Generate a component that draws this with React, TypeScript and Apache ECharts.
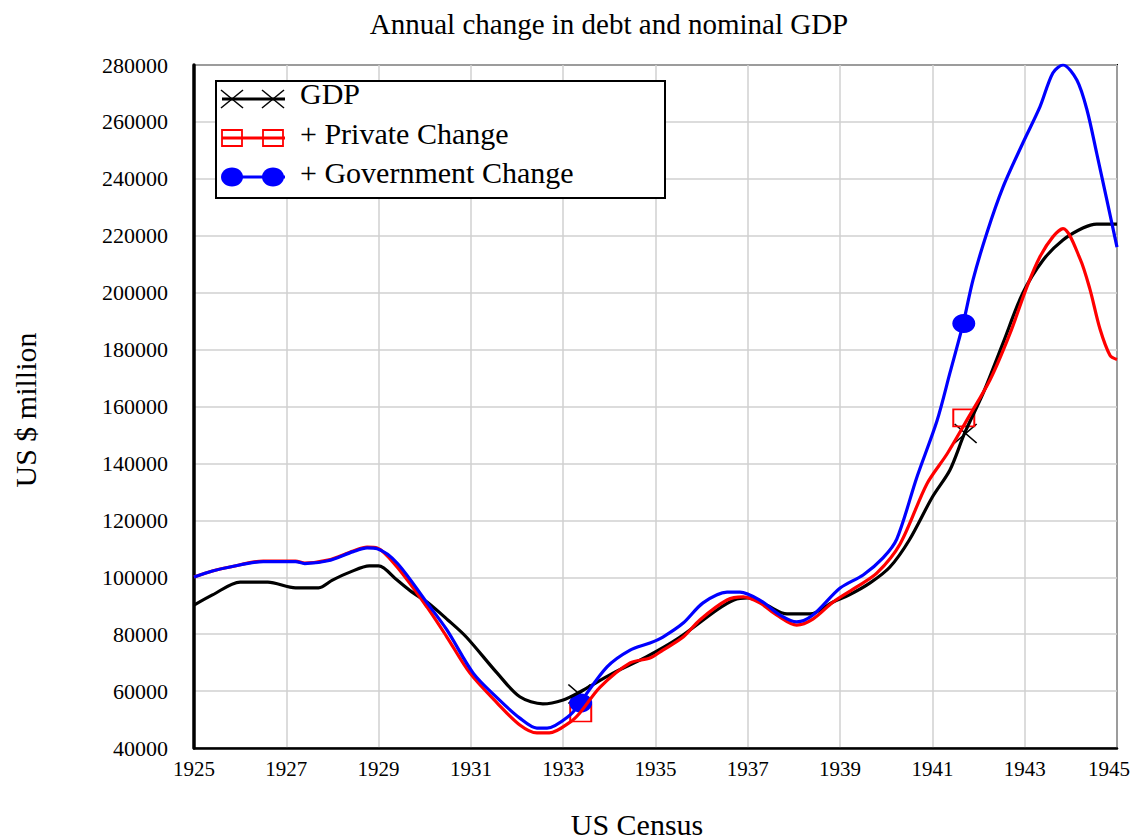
import React, { useEffect, useRef } from "react";
import * as echarts from "echarts";

const titleText = "Annual change in debt and nominal GDP";
const xName = "US Census";
const yName = "US $ million";
const seriesNames = ["GDP", "+ Private Change", "+ Government Change"];

const gdp: [number, number][] = [
  [1925.0, 90200], [1925.4, 93800], [1926.0, 98300], [1926.6, 98300], [1927.2, 96300],
  [1927.7, 96300], [1928.0, 99000], [1928.38, 101800], [1928.8, 104000], [1929.0, 104000],
  [1929.4, 99000], [1929.75, 94500], [1930.05, 91300], [1930.5, 85000], [1930.9, 79000],
  [1931.57, 66300], [1932.06, 58000], [1932.56, 55500], [1933.0, 56900], [1933.36, 59700],
  [1934.08, 66300], [1934.8, 72000], [1935.5, 78600], [1936.33, 88500], [1936.7, 92000],
  [1937.0, 92700], [1937.4, 90250], [1937.85, 87100], [1938.35, 87100], [1938.85, 91300],
  [1939.2, 93800], [1939.65, 98000], [1940.08, 103600], [1940.5, 113100], [1941.0, 128200],
  [1941.38, 137700], [1941.7, 150700], [1942.1, 164700], [1942.53, 182300], [1942.96, 199900],
  [1943.4, 211500], [1943.83, 218500], [1944.26, 222700], [1944.56, 224100], [1945.0, 224100],
];

const privateChange: [number, number][] = [
  [1925.0, 100100], [1925.4, 102200], [1925.78, 103600], [1926.5, 105700], [1927.2, 105700],
  [1927.4, 105000], [1927.9, 106000], [1928.45, 109200], [1928.75, 110600], [1928.97, 110300],
  [1929.4, 103600], [1930.05, 89500], [1930.48, 79000], [1930.98, 66300], [1931.57, 55800],
  [1932.06, 48100], [1932.43, 45300], [1932.7, 45300], [1933.15, 49100], [1933.36, 52300],
  [1933.8, 61400], [1934.45, 69900], [1934.88, 71600], [1935.16, 74400], [1935.6, 79000],
  [1935.96, 85000], [1936.55, 92000], [1936.9, 93100], [1937.26, 91000], [1937.63, 86700],
  [1938.06, 83200], [1938.41, 85300], [1938.85, 91300], [1939.36, 96600], [1939.8, 101500],
  [1940.3, 111700], [1940.88, 132800], [1941.32, 143400], [1941.75, 155300], [1942.25, 169400],
  [1942.68, 185600], [1943.05, 202100], [1943.33, 212600], [1943.61, 219600], [1943.83, 222500],
  [1944.2, 211900], [1944.41, 201400], [1944.63, 187300], [1944.85, 177900], [1945.0, 176500],
];

const governmentChange: [number, number][] = [
  [1925.0, 100100], [1925.4, 102200], [1925.78, 103600], [1926.5, 105500], [1927.2, 105500],
  [1927.4, 104800], [1927.9, 105800], [1928.45, 109000], [1928.75, 110300], [1928.97, 110000],
  [1929.4, 105000], [1930.05, 91000], [1930.48, 81500], [1931.05, 66300], [1931.57, 57600],
  [1932.06, 50500], [1932.43, 47000], [1932.65, 47000], [1933.15, 51600], [1933.36, 55800],
  [1933.95, 68500], [1934.45, 74400], [1934.88, 76900], [1935.16, 79000], [1935.6, 83900],
  [1936.03, 91000], [1936.55, 94800], [1936.83, 94800], [1937.26, 92000], [1937.7, 86700],
  [1938.06, 84300], [1938.41, 86700], [1939.0, 96200], [1939.5, 100800], [1939.93, 106800],
  [1940.23, 113500], [1940.66, 135000], [1941.1, 155000], [1941.38, 171800], [1941.67, 189400],
  [1941.88, 204500], [1942.18, 221000], [1942.53, 237100], [1942.96, 252600], [1943.33, 265300],
  [1943.61, 277200], [1943.83, 280000], [1944.13, 274700], [1944.35, 264200], [1944.56, 249000],
  [1944.78, 232600], [1945.0, 216000],
];

const gdpMarks: [number, number][] = [[1933.35, 59000], [1941.72, 150500]];
const privateMarks: [number, number][] = [[1933.38, 52300], [1941.68, 156000]];
const governmentMarks: [number, number][] = [[1933.38, 55800], [1941.68, 189200]];

const FONT = "'Liberation Serif', 'Times New Roman', serif";
const CROSS = "path://M0,0L20,18M20,0L0,18";

export default function App() {
  const ref = useRef<HTMLDivElement>(null);
  useEffect(() => {
    if (!ref.current) return;
    const chart = echarts.init(ref.current, null, { renderer: "svg" });
    const lineSeries = (name: string, data: [number, number][], color: string) => ({
      name,
      type: "line",
      data,
      showSymbol: false,
      symbol: "none",
      smooth: 0.3,
      lineStyle: { color, width: 3.2 },
      itemStyle: { color },
      emphasis: { disabled: true },
      silent: true,
    });
    const markSeries = (data: [number, number][], symbol: string, size: number[], style: any) => ({
      type: "scatter",
      data,
      symbol,
      symbolSize: size,
      itemStyle: { opacity: 1, ...style },
      emphasis: { disabled: true },
      silent: true,
    });

    const lx1 = 222, lx2 = 285, sxa = 232, sxb = 273;
    const rows = [99, 138, 177];
    const textYs = [93, 133, 172];

    chart.setOption({
      animation: false,
      backgroundColor: "#fff",
      textStyle: { fontFamily: FONT },
      grid: {
        left: 194, right: 14, top: 65, bottom: 91,
        containLabel: false, outerBoundsMode: "none",
        show: true, borderColor: "#000", borderWidth: 2, backgroundColor: "transparent",
      },
      xAxis: {
        type: "value",
        min: 1925,
        max: 1945,
        interval: 2,
        axisLine: { show: true, lineStyle: { color: "#000", width: 2.5 } },
        axisTick: { show: false },
        axisLabel: {
          color: "#000", fontFamily: FONT, fontSize: 21, margin: 10, showMaxLabel: true, hideOverlap: false,
          formatter: (v: number) => (v === 1945 ? String(v) + "{s|}" : String(v)),
          rich: { s: { width: 16 } },
        },
        splitLine: { show: true, lineStyle: { color: "#d0d0d0", width: 1.5 } },
      },
      yAxis: {
        type: "value",
        min: 40000,
        max: 280000,
        interval: 20000,
        axisLine: { show: true, lineStyle: { color: "#000", width: 3.5 } },
        axisTick: { show: false },
        axisLabel: { color: "#000", fontFamily: FONT, fontSize: 22, margin: 26, formatter: (v: number) => String(v) },
        splitLine: { show: true, lineStyle: { color: "#d0d0d0", width: 1.5 } },
      },
      series: [
        lineSeries(seriesNames[0], gdp, "#000000"),
        markSeries(gdpMarks, CROSS, [22, 19], { color: "rgba(0,0,0,0)", borderColor: "#000", borderWidth: 1.5 }),
        lineSeries(seriesNames[1], privateChange, "#ff0000"),
        markSeries(privateMarks, "rect", [21, 17], { color: "rgba(0,0,0,0)", borderColor: "#ff0000", borderWidth: 1.8 }),
        lineSeries(seriesNames[2], governmentChange, "#0000ff"),
        markSeries(governmentMarks, "circle", [23, 19], { color: "#0000ff" }),
      ],
      graphic: [
        { type: "text", x: 609, y: 24, style: { text: titleText, font: `29px ${FONT}`, fill: "#000", align: "center", verticalAlign: "middle" } },
        { type: "text", x: 637, y: 839, style: { text: xName, font: `30px ${FONT}`, fill: "#000", align: "center", verticalAlign: "bottom" } },
        { type: "text", x: 25, y: 410, rotation: Math.PI / 2, style: { text: yName, font: `30px ${FONT}`, fill: "#000", align: "center", verticalAlign: "middle" } },
        { type: "rect", z: 10, shape: { x: 216, y: 81, width: 449, height: 117 }, style: { fill: "#fff", stroke: "#000", lineWidth: 2 } },
        { type: "line", z: 11, shape: { x1: lx1, y1: rows[0], x2: lx2, y2: rows[0] }, style: { stroke: "#000", lineWidth: 3.2 } },
        ...[sxa, sxb].flatMap((cx) => [
          { type: "line", z: 12, shape: { x1: cx - 11, y1: rows[0] - 9, x2: cx + 11, y2: rows[0] + 9 }, style: { stroke: "#000", lineWidth: 1.5 } },
          { type: "line", z: 12, shape: { x1: cx + 11, y1: rows[0] - 9, x2: cx - 11, y2: rows[0] + 9 }, style: { stroke: "#000", lineWidth: 1.5 } },
        ]),
        { type: "line", z: 11, shape: { x1: lx1, y1: rows[1], x2: lx2, y2: rows[1] }, style: { stroke: "#ff0000", lineWidth: 3.2 } },
        ...[sxa, sxb].map((cx) => ({ type: "rect", z: 12, shape: { x: cx - 10, y: rows[1] - 8, width: 20, height: 16 }, style: { fill: "rgba(0,0,0,0)", stroke: "#ff0000", lineWidth: 1.8 } })),
        { type: "line", z: 11, shape: { x1: lx1, y1: rows[2], x2: lx2, y2: rows[2] }, style: { stroke: "#0000ff", lineWidth: 3.2 } },
        ...[sxa, sxb].map((cx) => ({ type: "ellipse", z: 12, shape: { cx, cy: rows[2], rx: 11, ry: 9.5 }, style: { fill: "#0000ff" } })),
        ...seriesNames.map((t, i) => ({ type: "text", z: 12, x: 300, y: textYs[i], style: { text: t, font: `30px ${FONT}`, fill: "#000", align: "left", verticalAlign: "middle" } })),
      ],
    });
    return () => chart.dispose();
  }, []);
  return <div ref={ref} style={{ position: "fixed", left: 0, top: 0, width: 1131, height: 839 }} />;
}
